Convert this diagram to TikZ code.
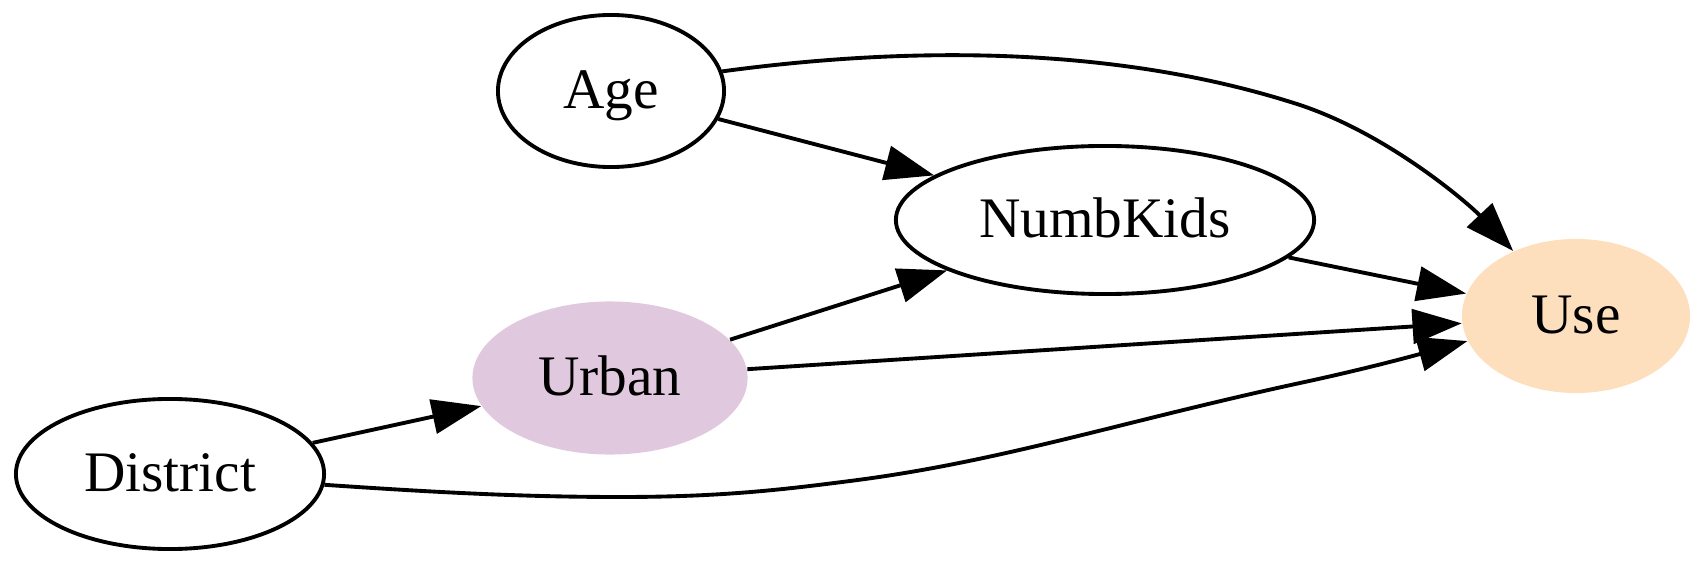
\documentclass[tikz,border=0pt]{standalone}
\usepackage{fontspec}
\setmainfont{Liberation Serif}
\usetikzlibrary{shapes.geometric}
\usetikzlibrary{arrows.meta}
\definecolor{usefill}{RGB}{253,223,189}
\definecolor{urbanfill}{RGB}{224,201,223}

\begin{document}
\begin{tikzpicture}[x=0.01cm,y=-0.01cm,
  var/.style={ellipse,inner sep=0pt,minimum height=1.52cm,
    font=\fontsize{16.3}{19}\selectfont,text height=0.44cm,text depth=0.10cm},
  ring/.style={var,draw,line width=1.1pt},
  edge/.style={line width=1.1pt,-{Triangle[length=14pt,width=9.8pt]}}]
  \useasboundingbox (0,0) rectangle (1705,567);

  \node[ring,minimum width=2.26cm] (Age) at (611,91) {Age};
  \node[ring,minimum width=4.18cm,minimum height=1.48cm] (NumbKids) at (1105,220) {NumbKids};
  \node[var,fill=usefill,minimum width=2.28cm,minimum height=1.54cm] (Use) at (1576,316) {Use};
  \node[var,fill=urbanfill,minimum width=2.75cm,minimum height=1.53cm] (Urban) at (610,378) {Urban};
  \node[ring,minimum width=3.08cm,minimum height=1.50cm] (District) at (170,474) {District};

  \draw[edge] (Age) -- (NumbKids);
  \draw[edge] (Urban) -- (NumbKids);
  \draw[edge] (NumbKids) -- (Use);
  \draw[edge] (Urban) -- (Use);
  \draw[edge] (District) -- (Urban);
  % curved ones
  \draw[edge] (Age.10) .. controls (880,50) and (1100,40) .. (1300,105)
    .. controls (1390,135) and (1470,205) .. (Use.134);
  \draw[edge] (District.-4) .. controls (430,492) and (520,497) .. (620,497)
    .. controls (720,497) and (780,490) .. (850,481)
    .. controls (1000,462) and (1120,422) .. (1300,383)
    .. controls (1370,368) and (1420,354) .. (Use.193);
\end{tikzpicture}
\end{document}
